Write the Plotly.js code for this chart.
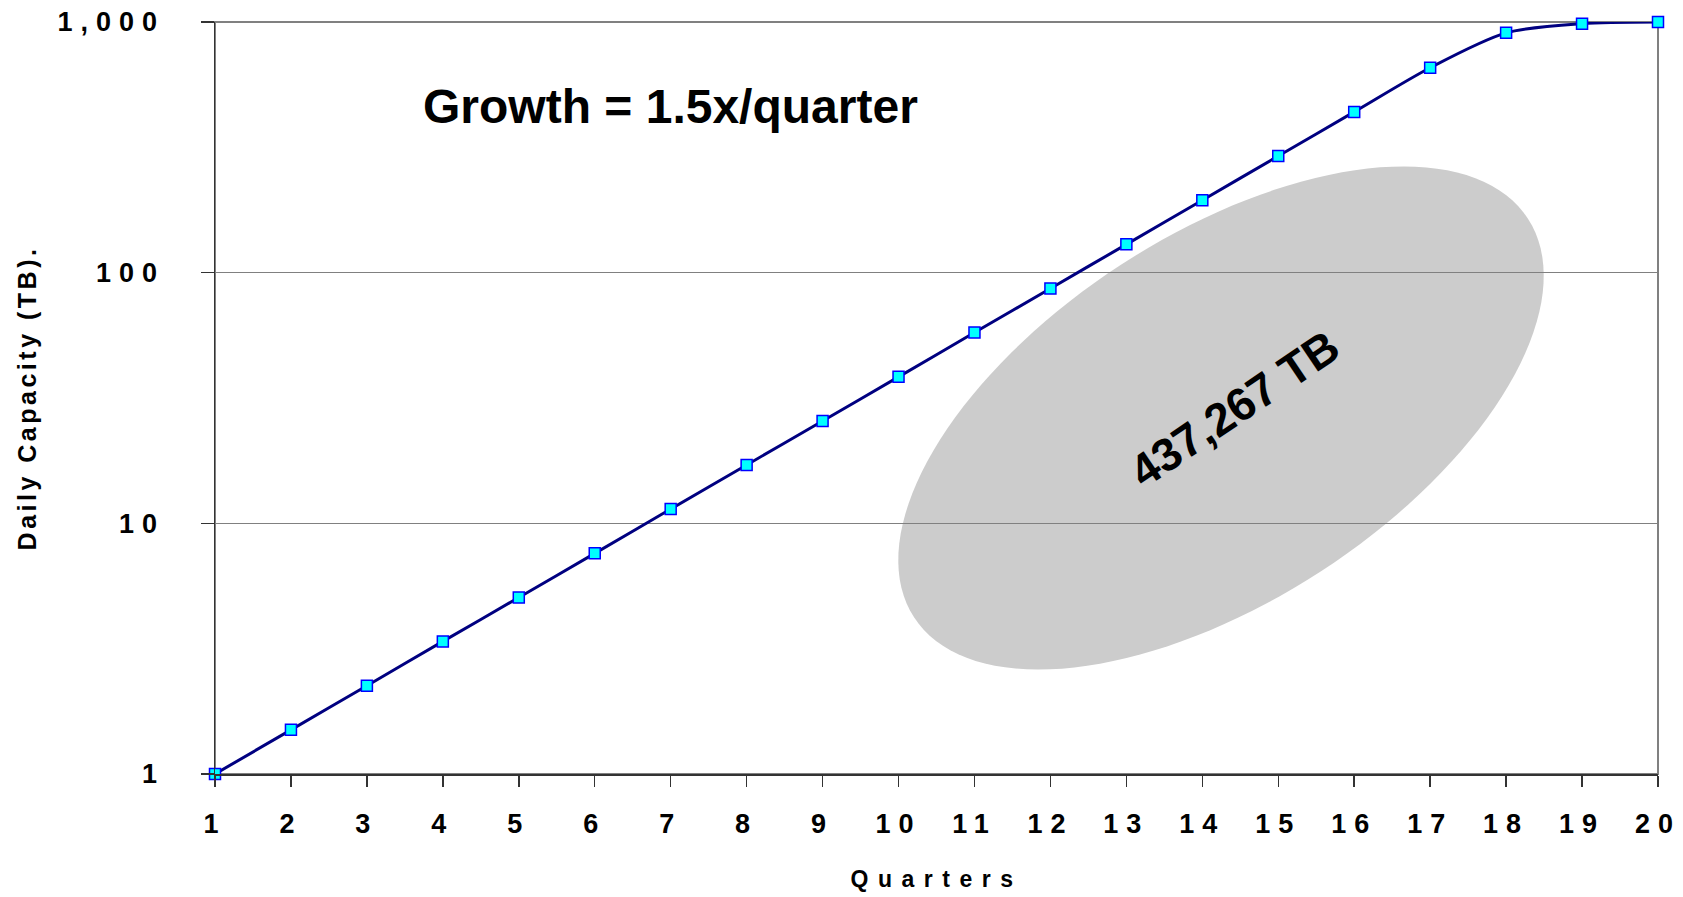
<!DOCTYPE html>
<html>
<head>
<meta charset="utf-8">
<script src="https://cdn.plot.ly/plotly-3.0.1.min.js"></script>
<style>
  html, body { margin: 0; padding: 0; background: #ffffff; }
  #chart { width: 1683px; height: 897px; }
  .xtick text, .ytick text { letter-spacing: 8px; }
  .xtitle { letter-spacing: 9.5px; }
  .ytitle { letter-spacing: 3.5px; }
</style>
</head>
<body>
<div id="chart"></div>
<script>
// Quarterly daily capacity (TB), log scale
const quarters = [1, 2, 3, 4, 5, 6, 7, 8, 9, 10, 11, 12, 13, 14, 15, 16, 17, 18, 19, 20];
const capacityTB = [1, 1.5, 2.25, 3.38, 5.06, 7.59, 11.4, 17.1, 25.6, 38.4, 57.7, 86.5, 129.7, 194.6, 291.9, 437.9, 656.8, 905, 985, 1000];
const yTickValues = [1, 10, 100, 1000];
const yTickLabels = ['1', '10', '100', '1,000'];
const growthNote = 'Growth = 1.5x/quarter';
const totalNote = '437,267 TB';

const FONT = '"Liberation Sans", Arial, Helvetica, sans-serif';
const W = 1683, H = 897;
const M = { l: 215, r: 25, t: 22, b: 123 };
const plotW = W - M.l - M.r;
const plotH = H - M.t - M.b;

// Rotated ellipse as a polygon path in paper coordinates.
// cx, cy, a, b in pixels measured from the plot area's bottom-left corner.
function ellipsePath(cx, cy, a, b, deg, n) {
  const t = deg * Math.PI / 180;
  let d = '';
  for (let i = 0; i < n; i++) {
    const u = 2 * Math.PI * i / n;
    const ex = a * Math.cos(u), ey = b * Math.sin(u);
    const x = cx + ex * Math.cos(t) - ey * Math.sin(t);
    const y = cy + ex * Math.sin(t) + ey * Math.cos(t);
    d += (i ? 'L' : 'M') + (x / plotW).toFixed(5) + ',' + (y / plotH).toFixed(5);
  }
  return d + 'Z';
}

const trace = {
  x: quarters,
  y: capacityTB,
  type: 'scatter',
  mode: 'lines+markers',
  cliponaxis: false,
  line: { color: '#000080', width: 3, shape: 'spline', smoothing: 0.8 },
  marker: { symbol: 'square', size: 11, color: '#00FFFF', line: { color: '#0000FF', width: 1.5 } },
  hoverinfo: 'x+y'
};

const layout = {
  width: W,
  height: H,
  margin: M,
  paper_bgcolor: '#ffffff',
  plot_bgcolor: '#ffffff',
  showlegend: false,
  font: { family: FONT, color: '#000000' },
  xaxis: {
    range: [1, 20],
    tickvals: quarters,
    ticktext: quarters.map(String),
    showgrid: false,
    zeroline: false,
    showline: true,
    linecolor: '#333333',
    linewidth: 1.5,
    ticks: 'outside',
    ticklen: 11,
    tickwidth: 1.5,
    tickcolor: '#333333',
    ticklabelstandoff: 14,
    tickfont: { family: FONT, size: 27, weight: 'bold', color: '#000000' },
    title: { text: 'Quarters', standoff: 33, font: { family: FONT, size: 23, weight: 'bold', color: '#000000' } }
  },
  yaxis: {
    type: 'log',
    range: [0, 3],
    tickvals: yTickValues,
    ticktext: yTickLabels,
    showgrid: true,
    gridcolor: '#808080',
    gridwidth: 1,
    zeroline: false,
    showline: true,
    linecolor: '#333333',
    linewidth: 1.5,
    ticks: 'outside',
    ticklen: 13,
    tickwidth: 1.5,
    tickcolor: '#333333',
    ticklabelstandoff: 30,
    tickfont: { family: FONT, size: 27, weight: 'bold', color: '#000000' },
    title: { text: 'Daily Capacity (TB).', standoff: 14, font: { family: FONT, size: 25, weight: 'bold', color: '#000000' } }
  },
  shapes: [
    {
      type: 'rect', xref: 'paper', yref: 'paper', x0: 0, x1: 1, y0: 0, y1: 1,
      line: { color: '#808080', width: 2 }, fillcolor: 'rgba(0,0,0,0)', layer: 'between'
    },
    {
      type: 'path', xref: 'paper', yref: 'paper',
      path: ellipsePath(1006, 356, 366, 183, 33, 144),
      fillcolor: '#CCCCCC', line: { width: 0 }, layer: 'between'
    }
  ],
  annotations: [
    {
      xref: 'paper', yref: 'paper', x: 0.316, y: 0.887, xanchor: 'center', yanchor: 'middle',
      text: growthNote, showarrow: false,
      font: { family: FONT, size: 48, weight: 'bold', color: '#000000' }
    },
    {
      xref: 'paper', yref: 'paper', x: 0.706, y: 0.486, xanchor: 'center', yanchor: 'middle',
      text: totalNote, showarrow: false, textangle: -34,
      font: { family: FONT, size: 46, weight: 'bold', color: '#000000' }
    }
  ]
};

Plotly.newPlot('chart', [trace], layout, { displayModeBar: false, staticPlot: true });
</script>
</body>
</html>
